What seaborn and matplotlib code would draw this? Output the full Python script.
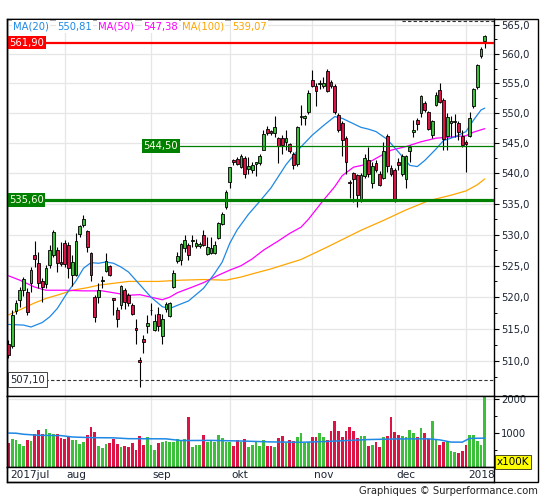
import numpy as np
import pandas as pd
import matplotlib
matplotlib.use("Agg")
import matplotlib.pyplot as plt
import matplotlib.transforms as mtransforms
from matplotlib.ticker import FixedLocator, FuncFormatter, NullFormatter
from matplotlib.patches import Rectangle
from matplotlib.lines import Line2D
import seaborn as sns

# ---------------- data ----------------
opens = [512.7, 512.3, 517.8, 519.5, 521.2, 520.8, 522.3, 526.7, 525.5, 522.6,
         522.1, 525.1, 526.7, 527.5, 525.6, 528.6, 528.3, 523.6, 523.6, 530.1,
         531.6, 530.6, 527.1, 520.0, 520.0, 522.5, 524.2, 524.9, 519.8, 518.0,
         518.8, 521.2, 520.3, 518.7, 515.1, 510.1, 513.4, 515.5, 517.9, 514.9,
         517.3, 513.9, 518.2, 517.0, 521.6, 525.8, 525.9, 527.8, 528.3, 529.0,
         528.1, 528.1, 530.0, 526.9, 527.1, 527.1, 529.5, 531.7, 534.4, 538.5,
         542.2, 542.4, 541.1, 542.5, 540.7, 540.5, 541.6, 541.7, 543.9, 547.4,
         547.0, 546.7, 545.9, 545.9, 545.2, 544.8, 543.2, 541.6, 549.3, 549.1,
         550.2, 555.6, 554.5, 554.8, 554.5, 557.1, 555.2, 554.5, 549.7, 548.4,
         545.9, 538.6, 540.0, 539.7, 535.6, 539.6, 542.1, 538.4, 541.7, 539.9,
         539.3, 546.1, 540.9, 540.5, 541.9, 539.8, 539.1, 543.6, 546.9, 548.8,
         550.0, 551.6, 550.1, 546.4, 551.3, 553.8, 552.1, 546.1, 548.3, 548.5,
         548.3, 546.2, 545.1, 546.2, 551.1, 554.4, 559.7, 562.2]
highs = [513.2, 517.9, 519.6, 521.6, 523.2, 521.5, 524.8, 529.0, 527.2, 523.1,
         525.1, 528.3, 530.8, 528.0, 528.8, 529.1, 528.8, 526.7, 530.2, 531.6,
         533.1, 530.8, 527.2, 520.3, 522.2, 523.3, 527.0, 525.1, 519.9, 518.5,
         521.9, 521.5, 520.6, 519.0, 516.6, 510.6, 514.0, 517.2, 519.0, 517.4,
         518.5, 517.4, 519.3, 519.3, 524.4, 527.2, 528.6, 529.9, 528.6, 529.9,
         529.3, 528.8, 530.7, 529.6, 529.6, 529.0, 532.1, 533.6, 537.3, 541.1,
         542.4, 542.6, 543.1, 542.8, 542.7, 541.8, 541.9, 543.2, 547.1, 547.8,
         547.2, 549.5, 546.0, 546.3, 547.1, 545.0, 543.5, 547.9, 551.3, 549.7,
         553.8, 557.2, 555.0, 555.5, 556.1, 557.4, 555.6, 554.8, 550.0, 548.6,
         546.1, 538.9, 540.2, 539.8, 540.0, 543.2, 544.4, 541.8, 542.2, 540.3,
         545.2, 546.5, 541.3, 540.8, 542.5, 543.1, 543.0, 544.7, 548.8, 549.1,
         553.0, 552.0, 550.4, 548.8, 553.6, 555.1, 552.6, 550.0, 549.5, 549.9,
         548.6, 547.1, 545.5, 550.1, 554.2, 558.3, 561.1, 563.2]
lows = [510.4, 512.0, 517.4, 518.4, 520.2, 517.2, 520.8, 524.8, 521.5, 519.3,
        521.4, 524.6, 526.4, 524.0, 525.0, 524.8, 523.0, 521.7, 523.4, 529.6,
        531.3, 527.2, 522.5, 516.1, 519.0, 521.5, 524.0, 523.4, 517.2, 515.3,
        518.2, 518.2, 518.6, 517.2, 512.6, 506.0, 511.2, 514.3, 517.2, 514.7,
        514.6, 512.7, 517.6, 516.9, 521.5, 525.4, 525.1, 527.2, 525.9, 528.0,
        527.9, 527.8, 528.2, 526.8, 526.9, 526.9, 529.3, 531.5, 534.2, 537.5,
        541.4, 541.3, 540.8, 539.2, 539.9, 540.0, 539.5, 541.4, 543.8, 546.3,
        546.3, 546.0, 541.7, 543.2, 543.8, 543.3, 540.7, 541.2, 548.0, 548.0,
        549.9, 554.3, 551.1, 554.1, 554.2, 553.5, 554.2, 549.9, 546.8, 542.8,
        539.9, 535.9, 535.3, 534.5, 535.3, 539.3, 539.4, 537.6, 540.2, 537.9,
        539.1, 540.2, 539.5, 535.3, 540.6, 539.6, 537.6, 541.9, 546.0, 547.2,
        549.4, 550.2, 547.1, 545.8, 551.2, 551.6, 543.8, 543.8, 546.0, 546.0,
        545.5, 544.3, 540.2, 546.0, 550.8, 554.1, 559.3, 561.0]
closes = [511.0, 517.2, 519.0, 521.1, 522.9, 517.6, 524.3, 526.1, 522.2, 521.6,
          524.6, 527.5, 530.4, 525.4, 525.3, 525.3, 524.6, 525.6, 529.0, 531.4,
          532.6, 528.0, 523.6, 516.9, 521.1, 522.7, 525.7, 523.6, 519.6, 516.6,
          521.8, 519.3, 519.0, 517.4, 514.8, 509.8, 513.0, 516.0, 518.0, 516.2,
          515.5, 516.5, 518.9, 519.0, 523.9, 526.6, 528.5, 529.2, 526.7, 529.2,
          528.6, 528.5, 528.4, 528.0, 527.8, 528.4, 531.8, 533.3, 537.0, 541.0,
          541.8, 541.6, 542.8, 539.9, 541.2, 541.3, 541.8, 542.9, 546.5, 546.6,
          546.6, 547.6, 544.5, 544.6, 545.9, 543.7, 541.3, 547.6, 549.5, 549.5,
          553.4, 554.5, 553.7, 555.1, 555.1, 553.7, 554.6, 550.2, 547.2, 545.5,
          541.8, 538.4, 539.1, 536.4, 539.7, 542.5, 539.9, 541.2, 540.6, 538.1,
          543.6, 541.2, 539.9, 535.6, 541.4, 542.9, 542.8, 544.4, 547.2, 548.1,
          552.8, 550.5, 547.4, 548.6, 553.1, 551.9, 545.6, 549.3, 548.6, 548.6,
          546.8, 544.6, 544.8, 549.2, 554.0, 558.1, 560.8, 563.0]
volumes = [702, 829, 800, 663, 610, 800, 751, 956, 1073, 956,
           1102, 1005, 956, 956, 849, 820, 878, 780, 780, 663,
           732, 927, 1161, 1015, 605, 546, 663, 702, 820, 663,
           576, 615, 595, 702, 488, 907, 644, 868, 644, 498,
           702, 732, 751, 732, 722, 810, 790, 810, 1463, 576,
           634, 634, 927, 722, 800, 722, 927, 858, 722, 732,
           615, 800, 722, 829, 576, 634, 761, 615, 800, 615,
           630, 598, 853, 922, 696, 794, 775, 892, 990, 696,
           725, 873, 892, 990, 873, 794, 1049, 1363, 1049, 873,
           1069, 1186, 1069, 843, 922, 902, 627, 647, 725, 598,
           873, 922, 1461, 1020, 951, 902, 873, 1098, 990, 873,
           1137, 990, 824, 1363, 794, 657, 745, 725, 461, 431,
           402, 461, 657, 951, 951, 775, 657, 2300]

# moving averages at sample candles
ma20_idx = [0, 4, 6, 9, 11, 13, 16, 18, 20, 22, 24, 26, 28, 30, 32, 35, 38, 41, 43,
            45, 48, 50, 52, 55, 57, 59, 61, 64, 67, 70, 74, 77, 81, 84, 87, 89, 92,
            94, 96, 98, 101, 104, 107, 109, 111, 114, 116, 119, 122, 124, 126, 127]
ma20_val = [515.7, 515.6, 515.3, 516.0, 516.9, 518.2, 521.0, 522.6, 524.6, 525.5,
            525.4, 525.6, 525.4, 524.8, 524.0, 522.0, 520.0, 518.5, 518.2, 518.7,
            519.4, 520.4, 521.4, 523.8, 525.6, 528.6, 530.8, 533.3, 535.4, 537.6,
            541.4, 543.7, 546.3, 547.9, 549.4, 549.1, 548.2, 547.6, 547.3, 546.9,
            545.6, 543.5, 541.3, 541.1, 542.1, 544.0, 545.4, 546.0, 546.9, 548.8,
            550.5, 550.81]
ma50_idx = [0, 3, 7, 10, 15, 20, 25, 28, 32, 35, 38, 41, 43, 45, 49, 52, 56, 59, 62,
            65, 68, 72, 75, 78, 80, 84, 87, 89, 92, 95, 99, 102, 106, 110, 114, 118,
            122, 124, 127]
ma50_val = [523.4, 522.7, 521.6, 521.1, 521.1, 521.0, 521.0, 520.7, 520.3, 520.4,
            520.0, 519.6, 520.0, 520.7, 521.6, 522.3, 523.5, 524.3, 525.0, 526.1,
            527.5, 529.0, 530.2, 531.2, 532.5, 535.6, 537.8, 539.6, 541.0, 541.4,
            542.8, 543.8, 544.4, 545.2, 545.8, 546.0, 546.2, 546.8, 547.38]
ma100_idx = [0, 3, 7, 10, 14, 17, 21, 24, 28, 32, 40, 46, 52, 58, 62, 65, 70, 78, 85,
             94, 100, 106, 112, 118, 122, 125, 127]
ma100_val = [517.2, 518.0, 519.1, 519.8, 520.5, 521.1, 521.5, 521.9, 522.2, 522.5,
             522.5, 522.7, 522.8, 522.7, 523.2, 523.7, 524.5, 526.0, 528.0, 530.7,
             532.3, 534.0, 535.5, 536.4, 537.1, 538.1, 539.07]
vma_idx = [0, 2, 4, 8, 14, 17, 22, 28, 32, 42, 46, 54, 62, 70, 78, 84, 90, 96, 104,
           112, 115, 118, 121, 123, 127]
vma_val = [995, 990, 960, 930, 920, 880, 860, 855, 830, 825, 775, 780, 762, 735, 725,
           745, 775, 805, 823, 825, 795, 730, 728, 840, 845]

month_labels = ["2017jul", "aug", "sep", "okt", "nov", "dec", "2018"]
month_start = [0, 15, 38, 59, 81, 103, 122]

level_resist = 561.90
level_mid = 544.50
level_support = 535.60
level_low = 507.10
level_top_mark = 565.70

price_ticks = [510, 515, 520, 525, 530, 535, 540, 545, 550, 555, 560, 565]
price_minor = [507.5, 512.5, 517.5, 522.5, 527.5, 532.5, 537.5, 542.5, 547.5,
               552.5, 557.5, 562.5]
vol_ticks = [1000, 2000]
vol_minor = [500, 1500]

# ---------------- style ----------------
sns.set_style("white")
plt.rcParams["font.family"] = ["DejaVu Sans"]

GREEN = "#3cc03c"
RED = "#dc1446"
BLUE = "#1e88e5"
MAG = "#ff00ff"
ORANGE = "#ffa500"
GRID = "#e6e6e6"
TXT = "#1c2433"

W, H = 545, 500
fig = plt.figure(figsize=(W / 100, H / 100), dpi=100)
fig.patch.set_facecolor("white")


def fx(px):
    return px / W


def fy(py):
    return 1 - py / H


L, R = 7, 494
T, MB, VB, SB = 19, 395.7, 467, 482
ax = fig.add_axes([fx(L), fy(MB), fx(R) - fx(L), fy(T) - fy(MB)])
axv = fig.add_axes([fx(L), fy(VB), fx(R) - fx(L), fy(MB) - fy(VB)])
axs = fig.add_axes([fx(L), fy(SB), fx(R) - fx(L), fy(VB) - fy(SB)])

XMIN, XMAX = -0.4, 129.47
for a in (ax, axv, axs):
    a.set_xlim(XMIN, XMAX)
    a.set_xticks([])
    for sp in a.spines.values():
        sp.set_color("black")
        sp.set_linewidth(1.0)
        sp.set_visible(True)

df = pd.DataFrame({"o": opens, "h": highs, "l": lows, "c": closes, "v": volumes})
df["x"] = np.arange(len(df))
up = df["c"] >= df["o"]
colors = np.where(up, GREEN, RED)

# ---------------- price panel ----------------
ax.set_yscale("log")
ax.set_ylim(504.63, 565.97)
ax.yaxis.tick_right()
ax.yaxis.set_major_locator(FixedLocator(price_ticks))
ax.yaxis.set_major_formatter(FuncFormatter(lambda v, p: f"{v:.1f}".replace(".", ",")))
ax.yaxis.set_minor_locator(FixedLocator(price_minor))
ax.yaxis.set_minor_formatter(NullFormatter())
ax.tick_params(axis="y", which="major", direction="out", length=3.5, width=0.8,
               pad=1.5, labelsize=7.2, labelcolor=TXT, color="black")
ax.tick_params(axis="y", which="minor", direction="out", length=2, width=0.7,
               color="black")
ax.grid(axis="y", which="major", color=GRID, lw=0.9, zorder=0)
ax.set_axisbelow(True)
for ms in month_start:
    ax.axvline(ms, color=GRID, lw=0.9, zorder=0.5)

sns.lineplot(x=ma100_idx, y=ma100_val, ax=ax, color=ORANGE, lw=0.9, sort=False,
             estimator=None, legend=False, zorder=2)
sns.lineplot(x=ma50_idx, y=ma50_val, ax=ax, color=MAG, lw=0.9, sort=False,
             estimator=None, legend=False, zorder=2)
sns.lineplot(x=ma20_idx, y=ma20_val, ax=ax, color=BLUE, lw=0.9, sort=False,
             estimator=None, legend=False, zorder=2)

ax.vlines(df["x"], df["l"], df["h"], color="black", lw=0.8, zorder=3)
body_bottom = np.minimum(df["o"], df["c"])
body_h = np.maximum(np.abs(df["c"] - df["o"]), 0.12)
ax.bar(df["x"], body_h, bottom=body_bottom, width=0.72, color=colors,
       edgecolor="black", linewidth=0.6, zorder=4)

blend = mtransforms.blended_transform_factory(ax.transAxes, ax.transData)


def fmt2(v):
    return f"{v:.2f}".replace(".", ",")


ax.axhline(level_resist, color="#ff0000", lw=1.6, zorder=5)
ax.axhline(level_support, color="#008000", lw=2.3, zorder=5)
ax.axhline(level_mid, xmin=(180 - L) / (R - L), xmax=1, color="#008000", lw=0.9, zorder=5)
ax.axhline(level_low, xmin=(45 - L) / (R - L), xmax=1, color="#333333", lw=0.8,
           ls=(0, (3, 2)), zorder=5)
ax.axhline(level_top_mark, xmin=(402 - L) / (R - L), xmax=1, color="#333333", lw=0.8,
           ls=(0, (3, 2)), zorder=5)

ax.text(0.004, level_resist, fmt2(level_resist), transform=blend, ha="left", va="center",
        fontsize=7.2, color="white", zorder=7,
        bbox=dict(boxstyle="square,pad=0.18", fc="#ff0000", ec="none"))
ax.text(0.004, level_support, fmt2(level_support), transform=blend, ha="left",
        va="center", fontsize=7.2, color="#ffffe8", zorder=7,
        bbox=dict(boxstyle="square,pad=0.18", fc="#008000", ec="none"))
ax.text((143.5 - L) / (R - L), level_mid, fmt2(level_mid), transform=blend, ha="left",
        va="center", fontsize=7.2, color="#ffffe8", zorder=7,
        bbox=dict(boxstyle="square,pad=0.18", fc="#008000", ec="none"))
ax.text(0.006, level_low, fmt2(level_low), transform=blend, ha="left", va="center",
        fontsize=7.2, color=TXT, zorder=7,
        bbox=dict(boxstyle="square,pad=0.22", fc="white", ec="#444444", lw=0.7))

# MA legend
leg_items = [("MA(20)", BLUE, 13), (fmt2(ma20_val[-1]), BLUE, 57),
             ("MA(50)", MAG, 98), (fmt2(ma50_val[-1]), MAG, 143),
             ("MA(100)", ORANGE, 182), (fmt2(ma100_val[-1]), ORANGE, 232)]
for txt, col, px in leg_items:
    fig.text(fx(px), fy(26.7), txt, ha="left", va="center", fontsize=7.2, color=col,
             zorder=8, bbox=dict(boxstyle="square,pad=0.12", fc="white", ec="none"))

# ---------------- volume panel ----------------
axv.set_ylim(0, 2090)
axv.yaxis.tick_right()
axv.yaxis.set_major_locator(FixedLocator(vol_ticks))
axv.yaxis.set_major_formatter(FuncFormatter(lambda v, p: f"{int(v)}"))
axv.yaxis.set_minor_locator(FixedLocator(vol_minor))
axv.tick_params(axis="y", which="major", direction="out", length=3.5, width=0.8,
                pad=1.5, labelsize=7.2, labelcolor=TXT, color="black")
axv.tick_params(axis="y", which="minor", direction="out", length=2, width=0.7,
                color="black")
axv.axhline(vol_ticks[-1], color=GRID, lw=0.9, zorder=0)
for ms in month_start:
    axv.axvline(ms, color=GRID, lw=0.9, zorder=0.5)
axv.bar(df["x"], df["v"], width=0.72, color=colors, linewidth=0, zorder=2)
sns.lineplot(x=vma_idx, y=vma_val, ax=axv, color=BLUE, lw=1.1, sort=False,
             estimator=None, legend=False, zorder=3)
axv.set_xlabel("")
axv.set_ylabel("")
ax.set_xlabel("")
ax.set_ylabel("")

# ---------------- date strip ----------------
axs.set_yticks([])
axs.set_ylim(0, 1)
sblend = mtransforms.blended_transform_factory(axs.transData, axs.transAxes)
for ms, lab in zip(month_start, month_labels):
    axs.text(ms + 0.5, 0.47, lab, transform=sblend, ha="left", va="center",
             fontsize=7.6, color=TXT)

# ---------------- frame decorations ----------------
fig.add_artist(Rectangle((fx(7), fy(482)), fx(538) - fx(7), fy(19) - fy(482),
                         fill=False, ec="black", lw=1.0, transform=fig.transFigure))
fig.add_artist(Line2D([fx(494), fx(538)], [fy(MB), fy(MB)], color="black", lw=1.0,
                      transform=fig.transFigure))
fig.text(fx(497), fy(462), "x100K", ha="left", va="center", fontsize=7.5, color="black",
         bbox=dict(boxstyle="square,pad=0.15", fc="#ffff00", ec="black", lw=0.5))
fig.text(fx(538), fy(491), "Graphiques © Surperformance.com", ha="right", va="center",
         fontsize=7.2, color="#222222")

fig.savefig("out.png", dpi=100, facecolor="white")
